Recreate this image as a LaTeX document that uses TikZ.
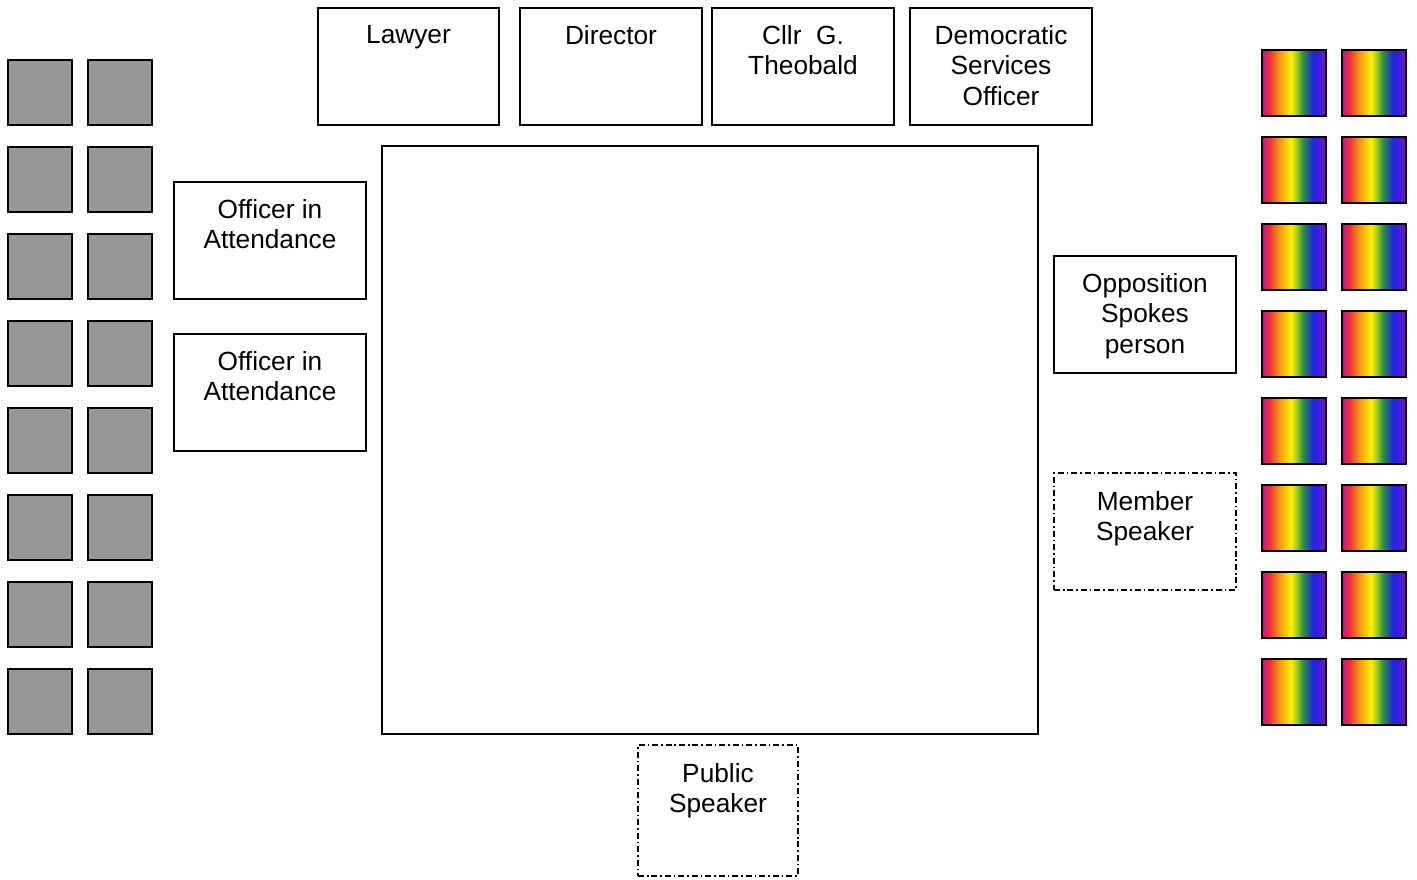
\documentclass[tikz,border=0pt]{standalone}
\usepackage{fontspec}
\setmainfont{Liberation Sans}
\def\pxu{0.75pt}
\definecolor{rbA}{RGB}{200,20,150}
\definecolor{rbB}{RGB}{232,40,60}
\definecolor{rbC}{RGB}{245,140,25}
\definecolor{rbD}{RGB}{255,240,0}
\definecolor{rbE}{RGB}{150,200,40}
\definecolor{rbF}{RGB}{50,150,50}
\definecolor{rbG}{RGB}{25,35,235}
\definecolor{rbH}{RGB}{120,20,190}
\definecolor{seatgray}{RGB}{150,150,150}
\pgfdeclarehorizontalshading{rainbow}{100bp}{%
color(0bp)=(rbA); color(25bp)=(rbA); color(30bp)=(rbB); color(37.5bp)=(rbC);
color(47.5bp)=(rbD); color(52.5bp)=(rbE); color(56.5bp)=(rbF); color(65bp)=(rbG);
color(75bp)=(rbH); color(100bp)=(rbH)}
\begin{document}
\begin{tikzpicture}[x=0.75pt,y=-0.75pt,
  box/.style={draw=black,line width=1.2pt,inner sep=0pt,outer sep=0pt,anchor=north west},
  dashbox/.style={box,dash pattern=on 4.5pt off 2.2pt on 1.2pt off 2.2pt},
  topbox/.style={box,minimum width=182*\pxu,minimum height=117*\pxu},
  sidebox/.style={box,minimum width=192*\pxu,minimum height=117*\pxu},
  label/.style={anchor=north,inner sep=0pt,align=center,
    font=\fontsize{19.7pt}{22.8pt}\selectfont,yshift=-17*\pxu},
  seat/.style={draw=black,line width=1.8pt,inner sep=0pt,outer sep=0pt,anchor=north west,
    minimum width=64*\pxu,minimum height=65*\pxu},
  graysq/.style={seat,fill=seatgray},
  rainsq/.style={seat,minimum height=66*\pxu,shade,shading=rainbow}]
\useasboundingbox (0,0) rectangle (1417,879);
% top row
\node[topbox,minimum width=181*\pxu] (lawyer) at (318,8) {};
\node[label] (tlawyer) at (lawyer.north) {Lawyer};
\node[topbox] (director) at (520,8) {};
\node[label] (tdirector) at (director.north) {Director};
\node[topbox] (cllr) at (712,8) {};
\node[label] (tcllr) at (cllr.north) {Cllr~ G.\\Theobald};
\node[topbox] (dso) at (910,8) {};
\node[label] (tdso) at (dso.north) {Democratic\\Services\\Officer};
% officers
\node[sidebox] (oa1) at (174,182) {};
\node[label] (toa1) at (oa1.north) {Officer in\\Attendance};
\node[sidebox] (oa2) at (174,334) {};
\node[label] (toa2) at (oa2.north) {Officer in\\Attendance};
% table
\node[box,minimum width=656*\pxu,minimum height=588*\pxu] (table) at (382,146) {};
% right side
\node[topbox] (opp) at (1054,256) {};
\node[label] (topp) at (opp.north) {Opposition\\Spokes\\person};
\node[dashbox,minimum width=182*\pxu,minimum height=117*\pxu] (member) at (1054,473) {};
\node[label,yshift=-1*\pxu] (tmember) at (member.north) {Member\\Speaker};
\node[dashbox,minimum width=160*\pxu,minimum height=131*\pxu] (public) at (638,745) {};
\node[label,yshift=-1*\pxu] (tpublic) at (public.north) {Public\\Speaker};
% seats
\foreach \k in {0,...,7}{
  \node[graysq] (gl\k) at (8,60+87*\k) {};
  \node[graysq] (gr\k) at (88,60+87*\k) {};
  \node[rainsq] (rl\k) at (1262,50+87*\k) {};
  \node[rainsq] (rr\k) at (1342,50+87*\k) {};
}
\end{tikzpicture}
\end{document}
